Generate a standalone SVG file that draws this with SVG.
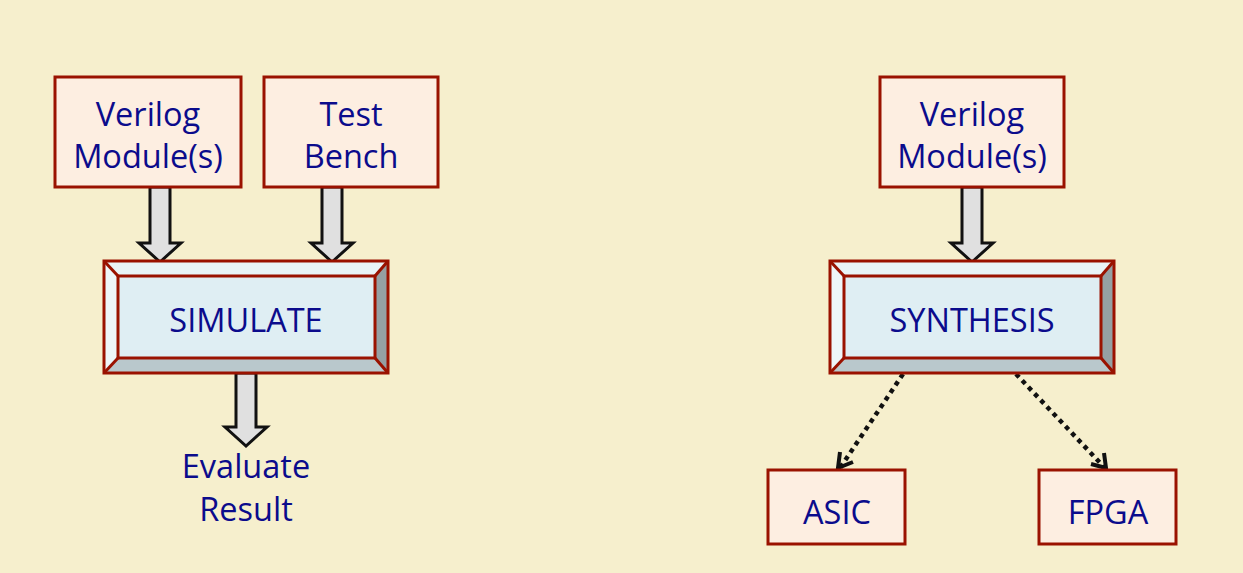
<svg xmlns="http://www.w3.org/2000/svg" width="1243" height="573" viewBox="0 0 1243 573">
<defs>
<style>
.box{fill:#fdeee1;stroke:#9a1200;stroke-width:3}
.t{font-family:"Open Sans",Lato,"Liberation Sans",sans-serif;font-size:32.5px;fill:#0b0b8c;text-anchor:middle}
.blk{fill:#e0e0e0;stroke:#111;stroke-width:3;stroke-linejoin:miter}
.bev{stroke:#9a1200;stroke-width:3}
.dot{fill:none;stroke:#111;stroke-width:4.5;stroke-dasharray:4.5 4.5}
</style>
</defs>
<rect width="1243" height="573" fill="#f6efcd"/>
<g id="connectors">
<path class="blk" d="M150,187 L170,187 L170,243 L181,243 L160,262 L139,243 L150,243 Z"/>
<path class="blk" d="M322,187 L342,187 L342,243 L353,243 L332,262 L311,243 L322,243 Z"/>
<path class="blk" d="M236,373 L256,373 L256,427 L267,427 L246,446 L225,427 L236,427 Z"/>
<path class="blk" d="M962,187 L982,187 L982,243 L993,243 L972,262 L951,243 L962,243 Z"/>
<path class="dot" d="M903,374 L840,468"/>
<path class="dot" d="M1016,374 L1105,468"/>
<path d="M840,452 L838,468 L853,462" fill="none" stroke="#111" stroke-width="4"/>
<path d="M1091,464 L1106,468 L1104,453" fill="none" stroke="#111" stroke-width="4"/>
</g>
<g id="verilog1">
<rect class="box" x="55" y="77" width="186" height="110"/>
<text class="t" x="148" y="126">Verilog</text>
<text class="t" x="148" y="168">Module(s)</text>
</g>
<g id="testbench">
<rect class="box" x="264" y="77" width="174" height="110"/>
<text class="t" x="351" y="126">Test</text>
<text class="t" x="351" y="168">Bench</text>
</g>
<g id="simulate">
<rect x="104" y="261" width="284" height="112" fill="#dfeef3"/>
<polygon points="104,261 388,261 375,276 118,276" fill="#e9f4f7"/>
<polygon points="104,261 118,276 118,358 104,373" fill="#eef6f9"/>
<polygon points="388,261 388,373 375,358 375,276" fill="#95a0a3"/>
<polygon points="104,373 118,358 375,358 388,373" fill="#b9c8cc"/>
<rect x="104" y="261" width="284" height="112" fill="none" class="bev"/>
<rect x="118" y="276" width="257" height="82" fill="none" class="bev"/>
<line class="bev" x1="104" y1="261" x2="118" y2="276"/>
<line class="bev" x1="388" y1="261" x2="375" y2="276"/>
<line class="bev" x1="104" y1="373" x2="118" y2="358"/>
<line class="bev" x1="388" y1="373" x2="375" y2="358"/>
<text class="t" x="246" y="332">SIMULATE</text>
</g>
<g id="evaluate">
<text class="t" x="246" y="478">Evaluate</text>
<text class="t" x="246" y="521">Result</text>
</g>
<g id="verilog2">
<rect class="box" x="880" y="77" width="184" height="110"/>
<text class="t" x="972" y="126">Verilog</text>
<text class="t" x="972" y="168">Module(s)</text>
</g>
<g id="synthesis">
<rect x="830" y="261" width="284" height="112" fill="#dfeef3"/>
<polygon points="830,261 1114,261 1101,276 844,276" fill="#e9f4f7"/>
<polygon points="830,261 844,276 844,358 830,373" fill="#eef6f9"/>
<polygon points="1114,261 1114,373 1101,358 1101,276" fill="#95a0a3"/>
<polygon points="830,373 844,358 1101,358 1114,373" fill="#b9c8cc"/>
<rect x="830" y="261" width="284" height="112" fill="none" class="bev"/>
<rect x="844" y="276" width="257" height="82" fill="none" class="bev"/>
<line class="bev" x1="830" y1="261" x2="844" y2="276"/>
<line class="bev" x1="1114" y1="261" x2="1101" y2="276"/>
<line class="bev" x1="830" y1="373" x2="844" y2="358"/>
<line class="bev" x1="1114" y1="373" x2="1101" y2="358"/>
<text class="t" x="972" y="332">SYNTHESIS</text>
</g>
<g id="asic">
<rect class="box" x="768" y="470" width="137" height="74"/>
<text class="t" x="837" y="524">ASIC</text>
</g>
<g id="fpga">
<rect class="box" x="1039" y="470" width="137" height="74"/>
<text class="t" x="1108" y="524">FPGA</text>
</g>
</svg>
